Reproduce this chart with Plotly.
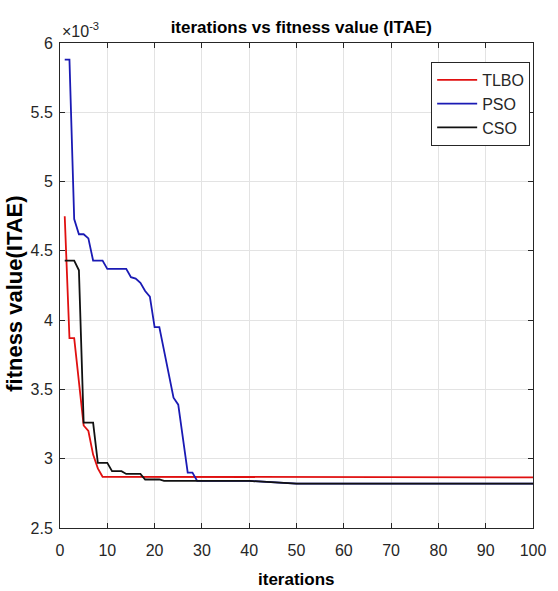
import plotly.graph_objects as go

# values are in units of 1e-3 (axis shows x10^-3)
tlbo_x = [1, 2, 3, 5, 6, 7, 8, 9, 100]
tlbo_y = [4.75, 3.87, 3.87, 3.24, 3.20, 3.03, 2.93, 2.87, 2.865]

pso_x = [1, 2, 3, 4, 5, 6, 7, 9, 10, 14, 15, 16, 17, 18, 19, 20, 21, 23, 24, 25, 27, 28, 29, 40, 50, 100]
pso_y = [5.88, 5.88, 4.73, 4.62, 4.62, 4.59, 4.43, 4.43, 4.37, 4.37, 4.31, 4.30, 4.27, 4.21, 4.17, 3.95, 3.95, 3.62, 3.44, 3.39, 2.90, 2.90, 2.84, 2.84, 2.82, 2.82]

cso_x = [1, 3, 4, 5, 7, 8, 10, 11, 13, 14, 17, 18, 21, 22, 40, 50, 100]
cso_y = [4.43, 4.43, 4.36, 3.26, 3.26, 2.97, 2.97, 2.91, 2.91, 2.89, 2.89, 2.85, 2.85, 2.84, 2.84, 2.82, 2.82]

x_ticks = [0, 10, 20, 30, 40, 50, 60, 70, 80, 90, 100]
y_ticks = [2.5, 3, 3.5, 4, 4.5, 5, 5.5, 6]
y_ticktext = ["2.5", "3", "3.5", "4", "4.5", "5", "5.5", "6"]

FONT = "Liberation Sans, Arial, sans-serif"

fig = go.Figure()
fig.add_trace(go.Scatter(x=tlbo_x, y=tlbo_y, mode="lines", name="TLBO",
                         line=dict(color="#e01010", width=1.8)))
fig.add_trace(go.Scatter(x=pso_x, y=pso_y, mode="lines", name="PSO",
                         line=dict(color="#1a1ab4", width=1.8)))
fig.add_trace(go.Scatter(x=cso_x, y=cso_y, mode="lines", name="CSO",
                         line=dict(color="#111111", width=1.8)))

axis_common = dict(showline=True, linecolor="#262626", linewidth=1, mirror="ticks",
                   ticks="inside", ticklen=5, tickcolor="#262626",
                   showgrid=True, gridcolor="#e3e3e3", gridwidth=1, zeroline=False,
                   tickfont=dict(family=FONT, size=16, color="#262626"))

fig.update_layout(
    width=558, height=591,
    margin=dict(l=60, r=15, t=43, b=63),
    paper_bgcolor="white", plot_bgcolor="white",
    title=dict(text="<b>iterations vs fitness value (ITAE)</b>", x=0.54, xanchor="center",
               y=0.954, yanchor="middle", font=dict(family=FONT, size=17, color="black")),
    xaxis=dict(range=[0, 100], tickvals=x_ticks, ticklabelstandoff=8, **axis_common),
    yaxis=dict(range=[2.5, 6], tickvals=y_ticks, ticktext=y_ticktext,
               ticklabelstandoff=3, **axis_common),
    legend=dict(x=0.994, y=0.961, xanchor="right", yanchor="top",
                bgcolor="white", bordercolor="#262626", borderwidth=1,
                font=dict(family=FONT, size=16, color="#262626"),
                tracegroupgap=0, itemwidth=40),
    showlegend=True,
)

fig.add_annotation(text="<b>iterations</b>", xref="paper", yref="paper",
                   x=0.5, y=-0.107, xanchor="center", yanchor="middle", showarrow=False,
                   font=dict(family=FONT, size=17, color="black"))
fig.add_annotation(text="<b>fitness value(ITAE)</b>", xref="paper", yref="paper",
                   x=-0.095, y=0.483, xanchor="center", yanchor="middle", showarrow=False,
                   textangle=-90, font=dict(family=FONT, size=22, color="black"))
fig.add_annotation(text="×10<sup>-3</sup>", xref="paper", yref="paper",
                   x=0.0, y=1.0, xanchor="left", yanchor="bottom", showarrow=False,
                   yshift=1, font=dict(family=FONT, size=16, color="#262626"))

fig.write_html("out.html")
